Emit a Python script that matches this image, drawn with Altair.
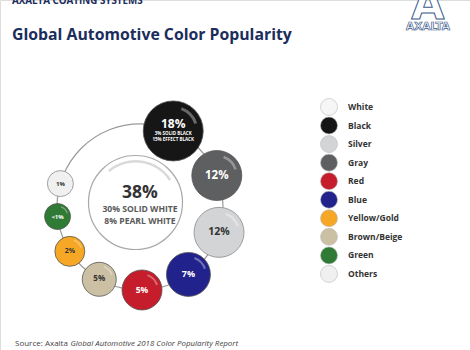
import math
import altair as alt
import pandas as pd

# ---- data ----
colors_order = ["Black", "Gray", "Silver", "Blue", "Red", "Brown/Beige", "Yellow/Gold", "Green", "Others"]
pct_labels = ["18%", "12%", "12%", "7%", "5%", "5%", "2%", "<1%", "1%"]
center_value = "38%"
center_sub = ["30% SOLID WHITE", "8% PEARL WHITE"]
black_sub = ["3% SOLID BLACK", "15% EFFECT BLACK"]
legend_names = ["White", "Black", "Silver", "Gray", "Red", "Blue", "Yellow/Gold", "Brown/Beige", "Green", "Others"]

# ---- styles / layout ----
fill_map = {
    "White": "#f6f6f6", "Black": "#161616", "Silver": "#d3d4d6", "Gray": "#5e5f61",
    "Red": "#c51d2b", "Blue": "#22228c", "Yellow/Gold": "#f6a726", "Brown/Beige": "#cbbfa4",
    "Green": "#2f7a34", "Others": "#f0f0f0",
}
text_map = {
    "Black": "white", "Gray": "white", "Silver": "#333333", "Blue": "white", "Red": "white",
    "Brown/Beige": "#333333", "Yellow/Gold": "#333333", "Green": "white", "Others": "#333333",
}
angles_deg = [23.6, 67.7, 107.8, 144.3, 178.6, 209.4, 237.7, 263.4, 286.4]
radii_px = [30, 25, 25, 22, 20, 17, 15, 13, 13]
font_px = [11, 11.5, 10.5, 9, 8.5, 8, 7, 6, 6]
ring_cx, ring_cy, ring_r = 140, 207, 83

rows = []
for name, lab, a, r, fs in zip(colors_order, pct_labels, angles_deg, radii_px, font_px):
    t = math.radians(a)
    rows.append(dict(name=name, label=lab, x=ring_cx + ring_r * math.sin(t),
                     y=ring_cy - ring_r * math.cos(t), size=(2 * r) ** 2, r=r,
                     fill=fill_map[name], tcol=text_map[name], fs=fs,
                     stroke="#8a8a8a" if name in ("Others", "Silver") else "#555555",
                     h0=0.35, h1=1.25, hr0=0.74 * r, hr1=0.84 * r))
bub = pd.DataFrame(rows)

X = alt.X("x:Q", scale=alt.Scale(domain=[0, 470]), axis=None)
Y = alt.Y("y:Q", scale=alt.Scale(domain=[0, 350], reverse=True), axis=None)

ring = alt.Chart(pd.DataFrame({"x": [ring_cx], "y": [ring_cy]})).mark_point(
    shape="circle", size=(2 * ring_r) ** 2, filled=False, stroke="#9a9a9a", strokeWidth=1.2, opacity=1
).encode(x=X, y=Y)

center_df = pd.DataFrame({"x": [135.5], "y": [202.5]})
center_circle = alt.Chart(center_df).mark_point(
    shape="circle", size=94 ** 2, filled=True, fill="white", stroke="#a8a8a8", strokeWidth=1.2, opacity=1
).encode(x=X, y=Y)
center_hl = alt.Chart(center_df).mark_arc(
    theta=5.58, theta2=7.28, radius=40, radius2=42.5, fill="#cfcfcf", opacity=0.8
).encode(x=X, y=Y)

bubbles = alt.Chart(bub).mark_point(shape="circle", filled=True, opacity=1, strokeWidth=0.8).encode(
    x=X, y=Y, size=alt.Size("size:Q", scale=None, legend=None),
    fill=alt.Fill("fill:N", scale=None), stroke=alt.Stroke("stroke:N", scale=None),
)
highlights = alt.Chart(bub).mark_arc(fill="white", opacity=0.35).encode(
    x=X, y=Y, theta=alt.Theta("h0:Q", scale=None), theta2="h1:Q",
    radius=alt.Radius("hr0:Q", scale=None), radius2="hr1:Q",
)

bub_main = bub[bub.name != "Black"]
pct_text = alt.Chart(bub_main).mark_text(font="Open Sans", fontWeight="bold", baseline="middle", dy=0).encode(
    x=X, y=Y, text="label:N", color=alt.Color("tcol:N", scale=None),
    size=alt.Size("fs:Q", scale=None, legend=None),
)
blk = bub[bub.name == "Black"].iloc[0]
black_df = pd.DataFrame({"x": [blk.x, blk.x, blk.x], "y": [blk.y - 6.5, blk.y + 3.5, blk.y + 9],
                         "t": [pct_labels[0]] + black_sub, "fs": [12, 4.5, 4.5]})
black_text = alt.Chart(black_df).mark_text(font="Open Sans", fontWeight="bold", color="white", baseline="middle").encode(
    x=X, y=Y, text="t:N", size=alt.Size("fs:Q", scale=None, legend=None))

center_txt_df = pd.DataFrame({"x": [140, 140, 140], "y": [193, 209, 220.5],
                              "t": [center_value] + center_sub, "fs": [17.5, 8.6, 8.6],
                              "c": ["#333333", "#5a5a5a", "#5a5a5a"]})
center_text = alt.Chart(center_txt_df).mark_text(font="Open Sans", fontWeight="bold", baseline="middle").encode(
    x=X, y=Y, text="t:N", size=alt.Size("fs:Q", scale=None, legend=None), color=alt.Color("c:N", scale=None))

leg = pd.DataFrame({"name": legend_names,
                    "x": [329] * 10, "lx": [348] * 10,
                    "y": [107 + i * 18.55 for i in range(10)]})
leg["fill"] = leg.name.map(fill_map)
leg_pts = alt.Chart(leg).mark_point(shape="circle", size=17 ** 2, filled=True, opacity=1,
                                    stroke="#bbbbbb", strokeWidth=0.6).encode(
    x=X, y=Y, fill=alt.Fill("fill:N", scale=None))
leg_txt = alt.Chart(leg).mark_text(font="Open Sans", fontWeight="bold", fontSize=8.5, align="left",
                                   baseline="middle", color="#333333").encode(
    x=alt.X("lx:Q", scale=alt.Scale(domain=[0, 470]), axis=None), y=Y, text="name:N")

title_df = pd.DataFrame({"x": [12], "y": [40], "t": ["Global Automotive Color Popularity"]})
title = alt.Chart(title_df).mark_text(font="Open Sans", fontWeight="bold", fontSize=15.8, align="left",
                                      baseline="alphabetic", color="#1b2d5c").encode(x=X, y=Y, text="t:N")
top_df = pd.DataFrame({"x": [12], "y": [4], "t": ["AXALTA COATING SYSTEMS"]})
top = alt.Chart(top_df).mark_text(font="Open Sans", fontWeight="bold", fontSize=9.8, align="left",
                                  baseline="alphabetic", color="#1b2d5c").encode(x=X, y=Y, text="t:N")
logoA_df = pd.DataFrame({"x": [428], "y": [19], "t": ["A"]})
logoA = alt.Chart(logoA_df).mark_text(font="DejaVu Sans", fontWeight="bold", fontSize=43, align="center",
                                      baseline="alphabetic", fill="white", stroke="#3c5a8c",
                                      strokeWidth=1).encode(x=X, y=Y, text="t:N")
logo_df = pd.DataFrame({"x": [428], "y": [30], "t": ["AXALTA"]})
logo = alt.Chart(logo_df).mark_text(font="DejaVu Sans", fontWeight="bold", fontSize=10.5, align="center",
                                    baseline="alphabetic", fill="white", stroke="#3c5a8c",
                                    strokeWidth=0.7).encode(x=X, y=Y, text="t:N")

src1 = alt.Chart(pd.DataFrame({"x": [15], "y": [346], "t": ["Source: Axalta"]})).mark_text(
    font="Open Sans", fontSize=8, align="left", baseline="alphabetic", color="#444444").encode(x=X, y=Y, text="t:N")
src2 = alt.Chart(pd.DataFrame({"x": [70.5], "y": [346], "t": ["Global Automotive 2018 Color Popularity Report"]})).mark_text(
    font="Open Sans", fontSize=7.9, fontStyle="italic", align="left", baseline="alphabetic", color="#444444").encode(
    x=X, y=Y, text="t:N")

chart = alt.layer(
    ring, center_circle, center_hl, bubbles, highlights, pct_text, black_text, center_text,
    leg_pts, leg_txt, title, top, logoA, logo, src1, src2,
).properties(width=470, height=350, padding=0, autosize=alt.AutoSizeParams(type="none")).configure_view(
    stroke=None).configure(background="white")

chart.save("out.html", embed_options={"renderer": "svg", "actions": False})
